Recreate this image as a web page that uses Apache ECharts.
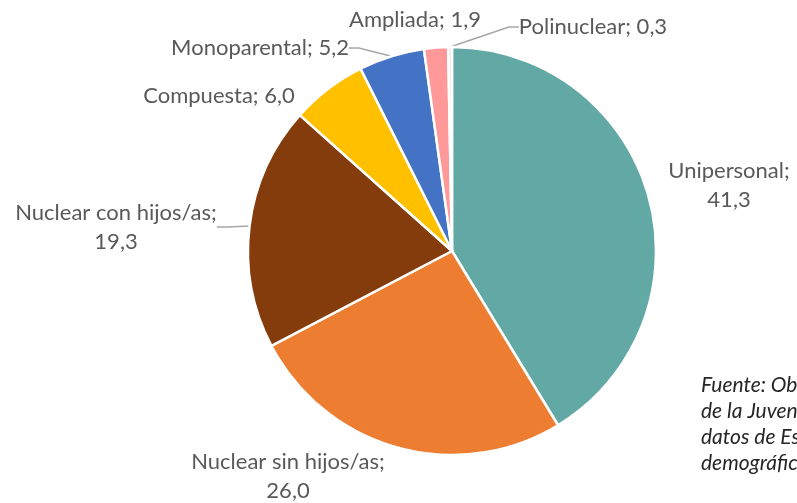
<!DOCTYPE html>
<html>
<head>
<meta charset="utf-8">
<script src="https://cdn.jsdelivr.net/npm/echarts@6/dist/echarts.min.js"></script>
<style>
  html, body { margin: 0; padding: 0; background: #fff; }
  #chart { width: 797px; height: 503px; }
</style>
</head>
<body>
<div id="chart"></div>
<script>
// tipos de hogar (%)
var categorias = ['Unipersonal', 'Nuclear sin hijos/as', 'Nuclear con hijos/as', 'Compuesta', 'Monoparental', 'Ampliada', 'Polinuclear'];
var valores = [41.3, 26.0, 19.3, 6.0, 5.2, 1.9, 0.3];
var colores = ['#62A8A4', '#ED7D31', '#843C0C', '#FFC000', '#4472C4', '#FF9999', '#E7E6E6'];
// etiquetas en dos lineas o en una
var dosLineas = [true, true, true, false, false, false, false];
// donde va cada etiqueta (centro del texto)
var posEtiquetas = [[729, 185], [288, 476], [116, 227], [219, 96], [260, 48], [415, 20], [593, 27]];
var conLinea = [false, false, true, false, true, false, true];
var fuente = ['Fuente: Observatorio', 'de la Juventud con', 'datos de Estadísticas', 'demográficas'];

var dataList = categorias.map(function (nombre, i) {
    return {
        name: nombre,
        value: valores[i],
        itemStyle: { color: colores[i] },
        labelLine: { show: conLinea[i] }
    };
});

var myChart = echarts.init(document.getElementById('chart'));
var option = {
    backgroundColor: '#fff',
    animation: false,
    textStyle: { fontFamily: 'Lato' },
    graphic: [{
        type: 'text',
        left: 701,
        top: 372,
        style: {
            text: fuente.join('\n'),
            font: 'italic 21px Lato',
            lineHeight: 26,
            fill: '#262626'
        }
    }],
    series: [{
        type: 'pie',
        center: [452, 251],
        radius: 204,
        startAngle: 90,
        clockwise: true,
        itemStyle: { borderColor: '#fff', borderWidth: 2.5 },
        label: {
            show: true,
            position: 'outside',
            color: '#595959',
            fontSize: 22,
            lineHeight: 29,
            fontFamily: 'Lato',
            overflow: 'none',
            formatter: function (p) {
                var v = p.value.toFixed(1).replace('.', ',');
                return p.name + ';' + (dosLineas[p.dataIndex] ? '\n' : ' ') + v;
            }
        },
        labelLine: {
            show: true,
            length: 10,
            length2: 10,
            lineStyle: { color: '#A6A6A6', width: 1.5 }
        },
        labelLayout: function (params) {
            var pos = posEtiquetas[params.dataIndex];
            return { x: pos[0], y: pos[1], align: 'center', verticalAlign: 'middle' };
        },
        emphasis: { disabled: true },
        data: dataList
    }]
};
myChart.setOption(option);
</script>
</body>
</html>
